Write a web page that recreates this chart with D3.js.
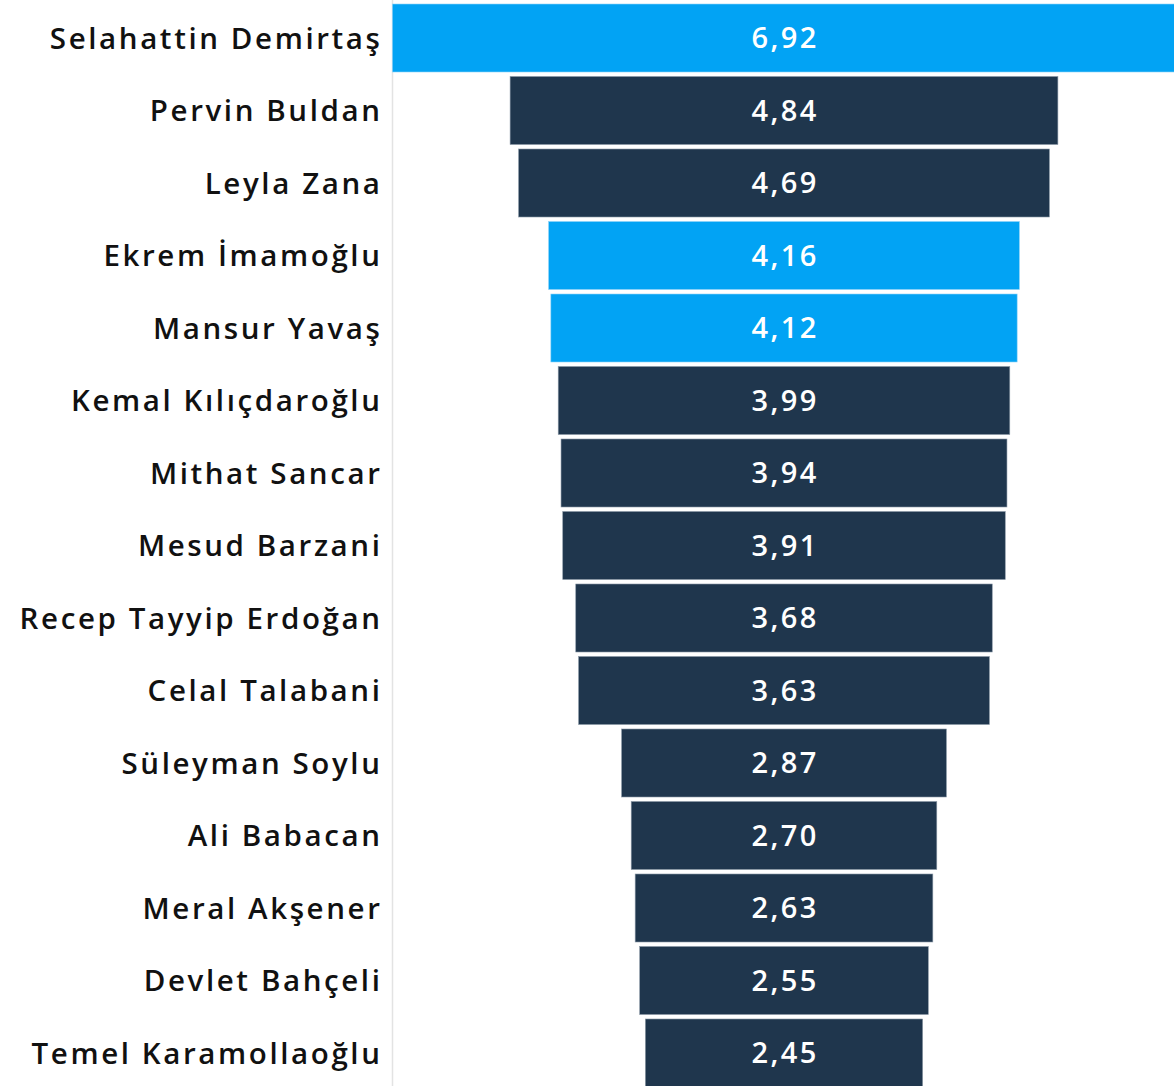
<!DOCTYPE html>
<html>
<head>
<meta charset="utf-8">
<script src="https://cdn.jsdelivr.net/npm/d3@7"></script>
<style>
  html, body { margin: 0; padding: 0; background: #fff; }
  svg { display: block; }
</style>
</head>
<body>
<svg id="chart"></svg>
<script>
// Veriler
const names = ["Selahattin Demirtaş", "Pervin Buldan", "Leyla Zana", "Ekrem İmamoğlu", "Mansur Yavaş",
  "Kemal Kılıçdaroğlu", "Mithat Sancar", "Mesud Barzani", "Recep Tayyip Erdoğan", "Celal Talabani",
  "Süleyman Soylu", "Ali Babacan", "Meral Akşener", "Devlet Bahçeli", "Temel Karamollaoğlu"];
const values = [6.92, 4.84, 4.69, 4.16, 4.12, 3.99, 3.94, 3.91, 3.68, 3.63, 2.87, 2.70, 2.63, 2.55, 2.45];
const highlighted = ["Selahattin Demirtaş", "Ekrem İmamoğlu", "Mansur Yavaş"];

const data = names.map((n, i) => ({ name: n, value: values[i] }));

const width = 1174, height = 1086;
const centerX = 784;
const axisX = 392.5;

const svg = d3.select("#chart")
  .attr("width", width)
  .attr("height", height);

const y = d3.scaleBand()
  .domain(names)
  .range([4, 1087])
  .paddingInner(0.062)
  .paddingOuter(0);

// yarim genislik
const w = d3.scaleLinear()
  .domain([0, 6.92])
  .range([0, 391.6]);

const fmt = d3.format(".2f");

// eksen cizgisi
svg.append("line")
  .attr("x1", axisX).attr("x2", axisX)
  .attr("y1", 0).attr("y2", height)
  .attr("stroke", "#e3e3e3")
  .attr("stroke-width", 1.5);

svg.selectAll("rect.bar")
  .data(data)
  .join("rect")
  .attr("class", "bar")
  .attr("x", d => centerX - w(d.value))
  .attr("y", d => y(d.name))
  .attr("width", d => 2 * w(d.value))
  .attr("height", y.bandwidth())
  .attr("fill", d => highlighted.includes(d.name) ? "#02a3f4" : "#1f364d")
  .attr("stroke", d => highlighted.includes(d.name) ? "#8fd3f8" : "#8a98a6")
  .attr("stroke-width", 0.6);

svg.selectAll("text.val")
  .data(data)
  .join("text")
  .attr("class", "val")
  .attr("x", centerX + 1.2)
  .attr("y", d => y(d.name) + y.bandwidth() / 2)
  .attr("dy", "0.36em")
  .attr("text-anchor", "middle")
  .attr("fill", "#fff")
  .style("font-family", "'Open Sans', sans-serif")
  .style("font-weight", 600)
  .style("font-size", "29px")
  .style("letter-spacing", "2.4px")
  .text(d => fmt(d.value).replace(".", ","));

svg.selectAll("text.lbl")
  .data(data)
  .join("text")
  .attr("class", "lbl")
  .attr("x", 382.5)
  .attr("y", d => y(d.name) + y.bandwidth() / 2)
  .attr("dy", "0.36em")
  .attr("text-anchor", "end")
  .attr("fill", "#111")
  .style("font-family", "'Open Sans', sans-serif")
  .style("font-weight", 600)
  .style("font-size", "29.5px")
  .style("letter-spacing", "2.6px")
  .text(d => d.name);
</script>
</body>
</html>
